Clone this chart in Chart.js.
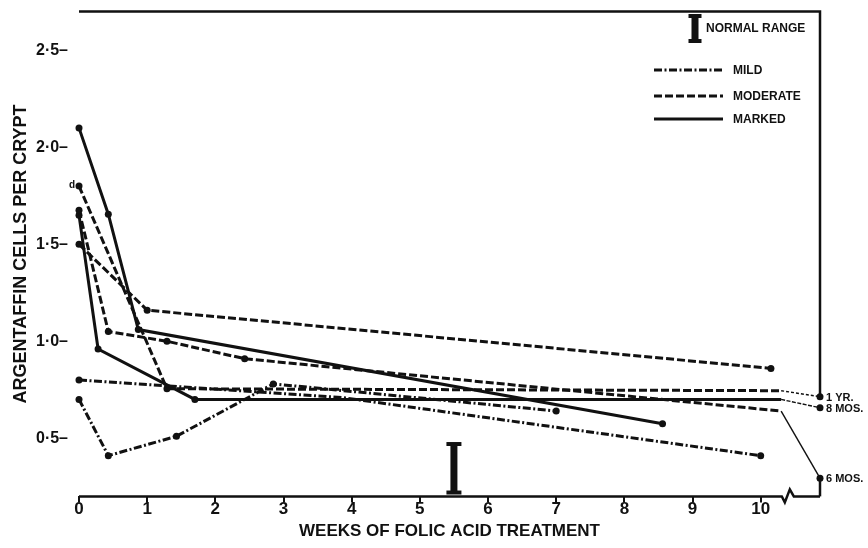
<!DOCTYPE html>
<html>
<head>
<meta charset="utf-8">
<script src="https://cdn.jsdelivr.net/npm/chart.js@4.4.1/dist/chart.umd.min.js"></script>
<style>
  html, body { margin: 0; padding: 0; background: #fff; }
</style>
</head>
<body>
<canvas id="grafica" width="868" height="548"></canvas>
<script>
// ejes
const xTicks = [0, 1, 2, 3, 4, 5, 6, 7, 8, 9, 10];
const yTicks = [0.5, 1.0, 1.5, 2.0, 2.5];
const yTickLabels = ['0·5–', '1·0–', '1·5–', '2·0–', '2·5–'];
const xEnd = 10.87; // columna de seguimiento tras el corte del eje

// MILD (punto y raya)
const mild1 = [[0, 0.80], [3.85, 0.71], [10, 0.41]];
const mild2 = [[0, 0.70], [0.43, 0.41], [1.43, 0.51], [2.85, 0.78], [7.0, 0.64]];
// MODERATE (rayas)
const mod1 = [[0, 1.80], [1.29, 0.755], [10.3, 0.745]];
const mod2 = [[0, 1.675], [0.43, 1.05], [1.29, 1.0], [2.43, 0.91], [10.3, 0.64]];
const mod3 = [[0, 1.50], [1.0, 1.16], [10.15, 0.86]];
// MARKED (continua)
const mark1 = [[0, 2.10], [0.43, 1.655], [0.87, 1.06], [8.56, 0.575]];
const mark2 = [[0, 1.65], [0.28, 0.96], [1.70, 0.70], [10.3, 0.70]];

// seguimiento a largo plazo
const followLabels = ['1 YR.', '8 MOS.', '6 MOS.'];
const followValues = [0.714, 0.657, 0.294];

// rango normal
const normalWeek = 5.5;
const normalRange = [0.22, 0.47];

const legendLabels = ['MILD', 'MODERATE', 'MARKED'];

const INK = '#111';
const dashMild = [8, 2.5, 2, 2.5];
const dashMod = [8, 3];

const pts = arr => arr.map(p => ({x: p[0], y: p[1]}));

function serie(data, dash, radii) {
    return {
        type: 'line',
        data: pts(data),
        borderColor: INK,
        backgroundColor: INK,
        borderWidth: 3,
        borderDash: dash,
        pointRadius: radii,
        pointBorderWidth: 0,
        pointBackgroundColor: INK,
        tension: 0,
        clip: false
    };
}

function enlace(from, value, dash) {
    return {
        type: 'line',
        data: pts([from, [xEnd, value]]),
        borderColor: INK,
        borderWidth: 1.4,
        borderDash: dash,
        pointRadius: [0, 3.5],
        pointBorderWidth: 0,
        pointBackgroundColor: INK,
        clip: false
    };
}

const datasets = [
    serie(mild1, dashMild, [3.5, 0, 3.5]),
    serie(mild2, dashMild, 3.5),
    serie(mod1, dashMod, [3.5, 3.5, 0]),
    serie(mod2, dashMod, [3.5, 3.5, 3.5, 3.5, 0]),
    serie(mod3, dashMod, 3.5),
    serie(mark1, [], 3.5),
    serie(mark2, [], [3.5, 3.5, 3.5, 0]),
    enlace(mod1[mod1.length - 1], followValues[0], [3, 2]),
    enlace(mark2[mark2.length - 1], followValues[1], [4, 1.5]),
    enlace(mod2[mod2.length - 1], followValues[2], []),
    {
        // barra "I" del rango normal
        type: 'line',
        data: pts([[normalWeek, normalRange[0]], [normalWeek, normalRange[1]]]),
        borderColor: INK,
        borderWidth: 7,
        pointStyle: 'line',
        pointRadius: 7.5,
        pointBorderWidth: 4,
        pointBorderColor: INK,
        clip: false
    }
];

// marco, eje con corte, leyenda y rotulos
const decor = {
    id: 'decor',
    afterDatasetsDraw(chart) {
        const {ctx, chartArea, scales: {x, y}} = chart;
        const xr = x.getPixelForValue(xEnd);
        const x0 = x.getPixelForValue(0);
        const yb = chartArea.bottom;
        ctx.save();
        ctx.strokeStyle = INK;
        ctx.fillStyle = INK;
        ctx.lineCap = 'butt';

        // marco superior y derecho
        ctx.lineWidth = 2.5;
        ctx.beginPath();
        ctx.moveTo(x0, chartArea.top);
        ctx.lineTo(xr, chartArea.top);
        ctx.lineTo(xr, y.getPixelForValue(followValues[0]));
        ctx.stroke();
        ctx.beginPath();
        ctx.moveTo(xr, y.getPixelForValue(followValues[2]));
        ctx.lineTo(xr, yb);
        ctx.stroke();

        // eje x con corte
        const xb = x.getPixelForValue(10.31);
        ctx.beginPath();
        ctx.moveTo(x0, yb);
        ctx.lineTo(xb, yb);
        ctx.lineTo(xb + 3, yb + 6);
        ctx.lineTo(xb + 8, yb - 7);
        ctx.lineTo(xb + 12, yb);
        ctx.lineTo(xr, yb);
        ctx.stroke();

        // rotulos de seguimiento
        ctx.font = 'bold 11px "Liberation Sans", Arial, sans-serif';
        ctx.textAlign = 'left';
        ctx.textBaseline = 'middle';
        followLabels.forEach((t, i) => {
            ctx.fillText(t, xr + 6, y.getPixelForValue(followValues[i]) + 1);
        });

        // letra "d"
        ctx.font = 'bold 10px "Liberation Sans", Arial, sans-serif';
        ctx.textAlign = 'right';
        ctx.fillText('d', x.getPixelForValue(mod1[0][0]) - 4, y.getPixelForValue(mod1[0][1]) - 1);

        // leyenda: rango normal
        const gx = 695;
        ctx.fillRect(gx - 3.5, 15, 7, 27);
        ctx.fillRect(gx - 6.5, 14, 13, 4);
        ctx.fillRect(gx - 6.5, 39, 13, 4);
        ctx.font = 'bold 12px "Liberation Sans", Arial, sans-serif';
        ctx.textAlign = 'left';
        ctx.fillText('NORMAL RANGE', 706, 29);

        // leyenda: lineas
        const dashes = [dashMild, dashMod, []];
        const ys = [70, 96, 119];
        legendLabels.forEach((t, i) => {
            ctx.lineWidth = 3;
            ctx.setLineDash(dashes[i]);
            ctx.beginPath();
            ctx.moveTo(654, ys[i]);
            ctx.lineTo(723, ys[i]);
            ctx.stroke();
            ctx.setLineDash([]);
            ctx.font = 'bold 12px "Liberation Sans", Arial, sans-serif';
            ctx.fillText(t, 733, ys[i] + 1);
        });
        ctx.restore();
    }
};

const graph = document.querySelector('#grafica');

new Chart(graph, {
    type: 'line',
    data: {datasets: datasets},
    options: {
        responsive: false,
        animation: false,
        devicePixelRatio: 1,
        layout: {padding: {left: 0, right: 48, top: 7.6, bottom: 0}},
        plugins: {legend: {display: false}, tooltip: {enabled: false}},
        scales: {
            x: {
                type: 'linear',
                min: 0,
                max: xEnd,
                afterBuildTicks: s => { s.ticks = xTicks.map(v => ({value: v})); },
                afterFit: s => { s.height = 51.6; s.paddingLeft = 0; s.paddingRight = 0; },
                grid: {display: true, drawOnChartArea: false, drawTicks: true, tickLength: 6, color: INK, lineWidth: 2},
                border: {display: false},
                ticks: {
                    color: INK,
                    padding: -2,
                    maxRotation: 0,
                    autoSkip: false,
                    font: {family: '"Liberation Sans", Arial, sans-serif', size: 17, weight: 'bold', lineHeight: 1},
                    callback: v => String(v)
                },
                title: {
                    display: true,
                    text: 'WEEKS OF FOLIC ACID TREATMENT',
                    color: INK,
                    font: {family: '"Liberation Sans", Arial, sans-serif', size: 17, weight: 'bold'},
                    padding: {top: 0, bottom: 6}
                }
            },
            y: {
                type: 'linear',
                min: 0.2,
                max: 2.7,
                afterBuildTicks: s => { s.ticks = yTicks.map(v => ({value: v})); },
                afterFit: s => { s.width = 79; s.paddingTop = 0; s.paddingBottom = 0; },
                grid: {display: false},
                border: {display: false},
                ticks: {
                    color: INK,
                    padding: 3,
                    font: {family: '"Liberation Sans", Arial, sans-serif', size: 16, weight: 'bold'},
                    callback: (v, i) => yTickLabels[i]
                },
                title: {
                    display: true,
                    text: 'ARGENTAFFIN CELLS PER CRYPT',
                    color: INK,
                    font: {family: '"Liberation Sans", Arial, sans-serif', size: 18, weight: 'bold'},
                    padding: {top: 10, bottom: 0}
                }
            }
        }
    },
    plugins: [decor]
});
</script>
</body>
</html>
